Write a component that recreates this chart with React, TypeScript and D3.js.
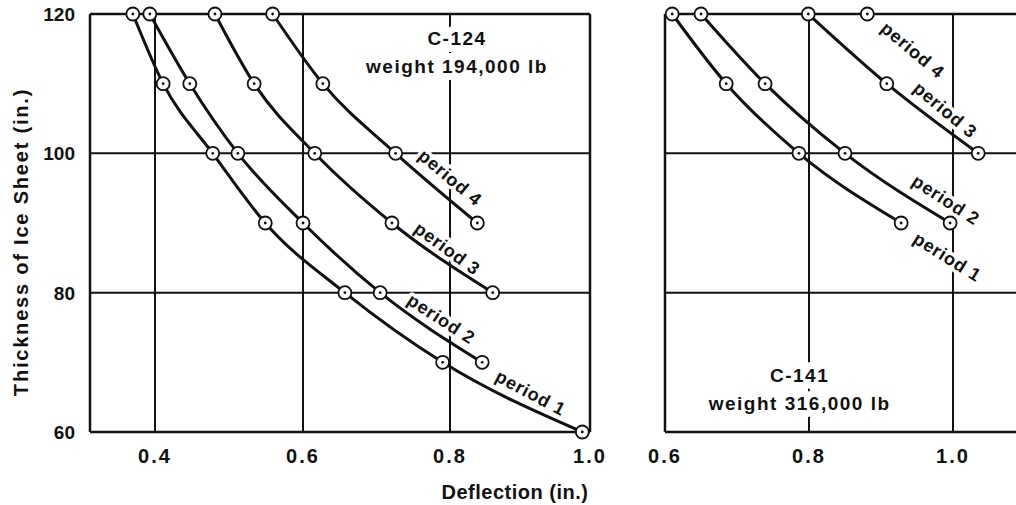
import React from 'react'
import * as d3 from 'd3'

// ice sheet thickness (in.) at which deflection was read
const thickness = [120, 110, 100, 90, 80, 70, 60]

// C-124, deflection (in.) per loading period
const c124Period1 = [0.37, 0.411, 0.478, 0.549, 0.657, 0.79, 0.989]
const c124Period2 = [0.393, 0.447, 0.512, 0.6, 0.705, 0.846]
const c124Period3 = [0.481, 0.534, 0.616, 0.721, 0.861]
const c124Period4 = [0.559, 0.627, 0.726, 0.839]

// C-141
const c141Period1 = [0.61, 0.685, 0.786, 0.928]
const c141Period2 = [0.65, 0.739, 0.85, 0.996]
const c141Period3 = [0.799, 0.908, 1.035]
const c141Period4 = [0.881]

const yTicks = [60, 80, 100, 120]
const c124XTicks = [0.4, 0.6, 0.8, 1.0]
const c141XTicks = [0.6, 0.8, 1.0]

const periodNames = ['period 1', 'period 2', 'period 3', 'period 4']
// label anchor [deflection, thickness, angle]
const c124LabelPos = [
	[0.915, 65.6, 28],
	[0.788, 76.2, 33],
	[0.796, 86.3, 36],
	[0.8, 96.5, 40]
]
const c141LabelPos = [
	[0.992, 85.1, 32],
	[0.99, 93.3, 33],
	[0.989, 106.2, 40],
	[0.944, 114.8, 40]
]

const W = 1016
const H = 505
const FONT = "'Liberation Sans', Arial, Helvetica, sans-serif"

const y = d3.scaleLinear().domain([60, 120]).range([432, 14])
const xLeft = d3
	.scaleLinear()
	.domain([0.312, 0.4, 0.6, 0.8, 1.0])
	.range([90, 155, 303, 450, 590])
const xRight = d3.scaleLinear().domain([0.6, 1.1]).range([665, 1025])

type Pt = [number, number]

const toPts = (vals: number[]): Pt[] => vals.map((v, i) => [v, thickness[i]])

interface PanelProps {
	x: d3.ScaleLinear<number, number>
	series: number[][]
	labels: number[][]
	xTicks: number[]
	gridX: number[]
	closed: boolean
	title: string[]
	titleAt: [number, number]
}

const Panel = ({ x, series, labels, xTicks, gridX, closed, title, titleAt }: PanelProps) => {
	const line = d3
		.line<Pt>()
		.x(d => x(d[0]))
		.y(d => y(d[1]))
		.curve(d3.curveMonotoneX)
	const [x0, x1] = [x.range()[0], x.range()[x.range().length - 1]]
	const tx = x(titleAt[0])
	const ty = y(titleAt[1])
	return (
		<g>
			{/* grid */}
			<g stroke="#111" strokeWidth={2}>
				{[80, 100].map(t => (
					<line key={t} x1={x0} x2={x1} y1={y(t)} y2={y(t)} />
				))}
				{gridX.map(t => (
					<line key={t} x1={x(t)} x2={x(t)} y1={y(120)} y2={y(60)} />
				))}
			</g>
			{/* aircraft label */}
			<g
				fontFamily={FONT}
				fontWeight="bold"
				fontSize={19}
				textAnchor="middle"
				fill="#111"
				stroke="#fff"
				strokeWidth={14}
				strokeLinejoin="round"
				style={{ paintOrder: 'stroke' }}
			>
				<text x={tx} y={ty} letterSpacing={1.5}>
					{title[0]}
				</text>
				<text x={tx} y={ty + 28} letterSpacing={1.5}>
					{title[1]}
				</text>
			</g>
			{/* period labels */}
			{labels.map((l, i) => (
				<text
					key={i}
					transform={`translate(${x(l[0])},${y(l[1])}) rotate(${l[2]})`}
					textAnchor="middle"
					dominantBaseline="central"
					fontFamily={FONT}
					fontWeight="bold"
					fontSize={18}
					letterSpacing={0.8}
					fill="#111"
					stroke="#fff"
					strokeWidth={7}
					strokeLinejoin="round"
					style={{ paintOrder: 'stroke' }}
				>
					{periodNames[i]}
				</text>
			))}
			{/* frame */}
			<g stroke="#111" strokeWidth={2.5} fill="none">
				<line x1={x0} x2={x1} y1={y(120)} y2={y(120)} />
				<line x1={x0} x2={x1} y1={y(60)} y2={y(60)} />
				<line x1={x0} x2={x0} y1={y(120)} y2={y(60)} />
				{closed && <line x1={x1} x2={x1} y1={y(120)} y2={y(60)} />}
			</g>
			{/* curves */}
			{series.map((s, i) =>
				s.length > 1 ? (
					<path
						key={i}
						d={line(toPts(s)) || ''}
						fill="none"
						stroke="#111"
						strokeWidth={3}
					/>
				) : null
			)}
			{/* markers */}
			{series.map((s, i) =>
				toPts(s).map((d, j) => (
					<g key={`${i}-${j}`} transform={`translate(${x(d[0])},${y(d[1])})`}>
						<circle r={6.5} fill="#fff" stroke="#111" strokeWidth={1.8} />
						<circle r={1.4} fill="#111" />
					</g>
				))
			)}
			{/* x tick labels */}
			<g fontFamily={FONT} fontWeight="bold" fontSize={20} textAnchor="middle" fill="#111">
				{xTicks.map(t => (
					<text key={t} x={x(t)} y={463} letterSpacing={2}>
						{t.toFixed(1)}
					</text>
				))}
			</g>
		</g>
	)
}

const App = () => {
	return (
		<svg
			width={W}
			height={H}
			style={{ position: 'absolute', left: 0, top: 0, background: '#fff' }}
		>
			<rect width={W} height={H} fill="#fff" />
			<Panel
				x={xLeft}
				series={[c124Period1, c124Period2, c124Period3, c124Period4]}
				labels={c124LabelPos}
				xTicks={c124XTicks}
				gridX={[0.4, 0.6, 0.8]}
				closed={true}
				title={['C-124', 'weight 194,000 lb']}
				titleAt={[0.81, 115.5]}
			/>
			<Panel
				x={xRight}
				series={[c141Period1, c141Period2, c141Period3, c141Period4]}
				labels={c141LabelPos}
				xTicks={c141XTicks}
				gridX={[0.8, 1.0]}
				closed={false}
				title={['C-141', 'weight 316,000 lb']}
				titleAt={[0.787, 67.2]}
			/>
			{/* y tick labels */}
			<g fontFamily={FONT} fontWeight="bold" fontSize={19} textAnchor="end" fill="#111">
				{yTicks.map(t => (
					<text key={t} x={75} y={y(t) + 7}>
						{t}
					</text>
				))}
			</g>
			<text
				transform={`translate(28,242) rotate(-90)`}
				textAnchor="middle"
				fontFamily={FONT}
				fontWeight="bold"
				fontSize={20}
				letterSpacing={1.8}
				fill="#111"
			>
				Thickness of Ice Sheet (in.)
			</text>
			<text
				x={515}
				y={499}
				textAnchor="middle"
				fontFamily={FONT}
				fontWeight="bold"
				fontSize={20}
				letterSpacing={0.5}
				fill="#111"
			>
				Deflection (in.)
			</text>
		</svg>
	)
}

export default App
